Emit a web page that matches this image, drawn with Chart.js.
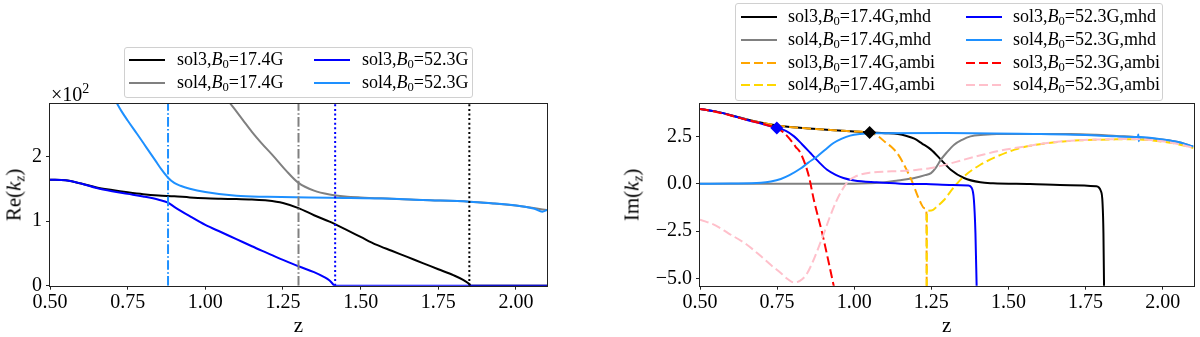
<!DOCTYPE html>
<html>
<head>
<meta charset="utf-8">
<script src="https://cdn.jsdelivr.net/npm/chart.js@4.4.1/dist/chart.umd.min.js"></script>
<style>
  body { margin: 0; width: 1200px; height: 337px; background: #fff; position: relative; overflow: hidden;
         font-family: "Liberation Serif", "DejaVu Serif", serif; color: #000; }
  canvas { position: absolute; top: 0; }
  .legend { position: absolute; background: rgba(255,255,255,0.8); border: 1px solid #d0d0d0; border-radius: 3px; box-sizing: border-box; }
  .item { position: absolute; font-size: 18px; line-height: 18px; white-space: nowrap; }
  .item svg { position: absolute; }
  sub { font-size: 0.7em; vertical-align: -0.25em; line-height: 0; }
  .ytitle { position: absolute; font-size: 21px; white-space: nowrap; transform: translate(-50%, -50%) rotate(-90deg); }
  .offset { position: absolute; font-size: 20px; white-space: nowrap; }
</style>
</head>
<body>
<canvas id="left" width="560" height="337" style="left:0"></canvas>
<canvas id="right" width="600" height="337" style="left:600px"></canvas>
<div id="legLeft" class="legend" style="left:124px;top:47px;width:349px;height:51px"></div>
<div id="legRight" class="legend" style="left:735px;top:3px;width:428px;height:98px"></div>
<div class="ytitle" style="left:14px;top:195px">Re(<i>k</i><sub><i>z</i></sub>)</div>
<div class="ytitle" style="left:632px;top:195px">Im(<i>k</i><sub><i>z</i></sub>)</div>
<div class="offset" style="left:51px;top:81px">×10<sup style="font-size:0.7em">2</sup></div>

<script>
const FONT = 'Liberation Serif, DejaVu Serif, serif';
Chart.defaults.font.family = FONT;
Chart.defaults.color = '#000';

// ---- left panel: Re(k_z), in units of 10^2 ----
const zL_s3_174 = [0.50,0.55,0.60,0.65,0.70,0.75,0.80,0.85,0.90,0.95,1.00,1.05,1.10,1.15,1.20,1.25,1.30,1.35,1.40,1.45,1.50,1.55,1.60,1.65,1.70,1.75,1.80,1.83,1.85,1.855,2.10];
const reL_s3_174 = [1.64,1.63,1.58,1.52,1.48,1.445,1.415,1.395,1.383,1.365,1.352,1.345,1.34,1.332,1.318,1.28,1.20,1.09,0.99,0.875,0.755,0.635,0.54,0.445,0.35,0.255,0.16,0.09,0.025,0,0];

const zL_s4_174 = [1.08,1.12,1.15,1.18,1.22,1.26,1.30,1.35,1.40,1.45,1.50,1.60,1.70,1.85,2.00,2.10];
const reL_s4_174 = [2.82,2.57,2.38,2.21,2.00,1.78,1.59,1.47,1.41,1.38,1.365,1.345,1.325,1.30,1.24,1.17];

const zL_s3_523 = [0.50,0.55,0.60,0.65,0.70,0.75,0.80,0.85,0.88,0.90,0.95,1.00,1.05,1.10,1.15,1.20,1.25,1.30,1.35,1.38,1.40,1.41,1.415,2.10];
const reL_s3_523 = [1.64,1.63,1.58,1.51,1.46,1.42,1.38,1.33,1.285,1.22,1.075,0.94,0.83,0.72,0.61,0.505,0.40,0.30,0.21,0.14,0.08,0.03,0,0];

const zL_s4_523 = [0.712,0.73,0.75,0.78,0.81,0.84,0.86,0.88,0.90,0.92,0.95,1.00,1.10,1.20,1.40,1.60,1.70,1.85,1.92,2.00,2.03,2.06,2.085,2.10];
const reL_s4_523 = [2.85,2.70,2.555,2.35,2.14,1.93,1.79,1.67,1.59,1.545,1.50,1.45,1.39,1.375,1.36,1.345,1.325,1.30,1.275,1.24,1.22,1.19,1.145,1.17];

const zL_vlines = [0.88, 1.30, 1.418, 1.85];
const cL_vlines = ['#1e90ff', '#808080', '#0000ff', '#000000'];
const sL_vlines = ['dashdot', 'dashdot', 'dotted', 'dotted'];

const xTicks = [0.50, 0.75, 1.00, 1.25, 1.50, 1.75, 2.00];
const yTicksL = [0, 1, 2];

// ---- right panel: Im(k_z) ----
const zR_s3_174_mhd = [0.50,0.55,0.60,0.65,0.70,0.75,0.80,0.85,0.90,0.95,1.00,1.05,1.10,1.142,1.17,1.195,1.22,1.249,1.281,1.313,1.356,1.409,1.45,1.57,1.70,1.784,1.80,1.805,1.808,1.81];
const imR_s3_174_mhd = [3.95,3.82,3.62,3.40,3.22,3.07,2.98,2.92,2.86,2.81,2.76,2.71,2.67,2.62,2.52,2.38,2.12,1.80,1.27,0.74,0.30,0.07,0.02,-0.02,-0.08,-0.14,-0.40,-1.0,-2.6,-5.5];

const zR_s4_174_mhd = [0.50,1.00,1.05,1.10,1.142,1.195,1.23,1.249,1.265,1.281,1.30,1.324,1.35,1.377,1.42,1.463,1.70,1.784,1.85,1.92,2.00,2.05,2.089,2.10];
const imR_s4_174_mhd = [0.0,0.0,0.02,0.07,0.17,0.30,0.45,0.56,0.85,1.27,1.65,2.06,2.32,2.50,2.58,2.62,2.62,2.58,2.52,2.46,2.33,2.20,2.01,1.96];

const zR_s3_174_ambi = [0.50,0.55,0.60,0.65,0.70,0.75,0.80,0.85,0.90,0.95,1.00,1.05,1.08,1.10,1.12,1.14,1.16,1.185,1.211,1.228,1.234,1.235];
const imR_s3_174_ambi = [3.95,3.82,3.62,3.40,3.22,3.07,2.98,2.92,2.86,2.81,2.76,2.71,2.48,2.2,1.95,1.6,1.05,0.21,-0.85,-1.30,-1.40,-5.5];

const zR_s4_174_ambi = [1.235,1.236,1.25,1.27,1.292,1.32,1.356,1.409,1.463,1.52,1.57,1.62,1.677,1.73,1.784,1.84,1.891,1.95,1.998,2.05,2.089,2.10];
const imR_s4_174_ambi = [-5.5,-1.45,-1.42,-1.18,-0.85,-0.25,0.39,1.0,1.44,1.80,2.0,2.13,2.23,2.29,2.32,2.34,2.35,2.31,2.23,2.09,1.93,1.89];

const zR_s3_523_mhd = [0.50,0.55,0.60,0.65,0.70,0.749,0.78,0.805,0.83,0.858,0.885,0.912,0.94,0.965,1.00,1.072,1.15,1.233,1.318,1.37,1.38,1.388,1.393,1.397];
const imR_s3_523_mhd = [3.95,3.82,3.62,3.38,3.17,2.94,2.78,2.50,2.10,1.62,1.15,0.74,0.47,0.30,0.17,0.07,0.0,-0.02,-0.07,-0.10,-0.20,-0.85,-2.6,-5.5];

const zR_s4_523_mhd = [0.50,0.60,0.698,0.73,0.762,0.79,0.826,0.85,0.88,0.91,0.933,0.96,0.987,1.02,1.05,1.30,1.60,1.784,1.85,1.92,1.921,1.923,1.925,2.00,2.05,2.089,2.10];
const imR_s4_523_mhd = [0.0,0.01,0.05,0.12,0.25,0.45,0.80,1.10,1.44,1.85,2.15,2.38,2.54,2.63,2.67,2.68,2.62,2.55,2.50,2.47,2.60,2.24,2.46,2.33,2.20,2.01,1.96];

const zR_s3_523_ambi = [0.50,0.55,0.60,0.65,0.70,0.75,0.77,0.79,0.81,0.826,0.853,0.869,0.896,0.935];
const imR_s3_523_ambi = [3.95,3.80,3.60,3.38,3.17,2.92,2.72,2.38,1.95,1.62,0.39,-0.85,-2.6,-5.5];

const zR_s4_523_ambi = [0.50,0.55,0.591,0.65,0.698,0.73,0.762,0.785,0.805,0.825,0.845,0.865,0.88,0.90,0.92,0.94,0.96,0.98,1.00,1.02,1.05,1.10,1.142,1.20,1.249,1.30,1.356,1.41,1.463,1.52,1.57,1.62,1.677,1.73,1.784,1.84,1.891,1.95,1.998,2.05,2.089,2.10];
const imR_s4_523_ambi = [-1.90,-2.20,-2.61,-3.2,-3.84,-4.3,-4.72,-5.05,-5.22,-5.12,-4.8,-4.15,-3.55,-2.7,-1.8,-1.0,-0.35,0.12,0.35,0.48,0.58,0.64,0.66,0.72,0.83,1.02,1.27,1.50,1.71,1.88,2.01,2.14,2.24,2.30,2.33,2.35,2.36,2.32,2.24,2.10,1.94,1.90];

const diamondsZ = [0.749, 1.05];
const diamondsIm = [2.94, 2.71];
const diamondsC = ['#0000ff', '#000000'];

const yTicksR = [-5.0, -2.5, 0.0, 2.5];

// ---- legend labels ----
const labelsL = ['sol3,B0=17.4G', 'sol4,B0=17.4G', 'sol3,B0=52.3G', 'sol4,B0=52.3G'];
const colorsL = ['#000000', '#808080', '#0000ff', '#1e90ff'];
const labelsR = ['sol3,B0=17.4G,mhd', 'sol4,B0=17.4G,mhd', 'sol3,B0=17.4G,ambi', 'sol4,B0=17.4G,ambi',
                 'sol3,B0=52.3G,mhd', 'sol4,B0=52.3G,mhd', 'sol3,B0=52.3G,ambi', 'sol4,B0=52.3G,ambi'];
const colorsR = ['#000000', '#808080', '#ffa500', '#ffd700', '#0000ff', '#1e90ff', '#ff0000', '#ffc0cb'];

const DASH = { solid: [], dashed: [9, 4], dashdot: [9.6, 2.4, 1.5, 2.4], dotted: [2, 2.6] };

function pts(zs, vs) { return zs.map((z, i) => ({ x: z, y: vs[i] })); }

function curve(label, zs, vs, color, style, order) {
  return {
    label, data: pts(zs, vs), borderColor: color, backgroundColor: color,
    borderWidth: 2, borderDash: DASH[style], pointRadius: 0, fill: false,
    cubicInterpolationMode: 'monotone', clip: 0, order
  };
}

const framePlugin = {
  id: 'frame',
  afterDatasetsDraw(chart) {
    const { ctx, chartArea: a } = chart;
    ctx.save();
    ctx.strokeStyle = '#222';
    ctx.lineWidth = 1;
    ctx.strokeRect(Math.round(a.left) - 0.5, Math.round(a.top) - 0.5,
                   Math.round(a.right) - Math.round(a.left) + 1, Math.round(a.bottom) - Math.round(a.top) + 1);
    ctx.restore();
  }
};

function makeChart(id, datasets, yMin, yMax, yTicks, yFmt, yWidth, padRight) {
  return new Chart(document.getElementById(id), {
    type: 'line',
    data: { datasets },
    options: {
      responsive: false, animation: false, devicePixelRatio: 1,
      layout: { padding: { left: 0, top: 104, right: padRight, bottom: 0 } },
      plugins: { legend: { display: false }, tooltip: { enabled: false } },
      scales: {
        x: {
          type: 'linear', min: 0.5, max: 2.1,
          afterBuildTicks: s => { s.ticks = xTicks.map(v => ({ value: v })); },
          afterFit: s => { s.height = 51.3; },
          ticks: { font: { family: FONT, size: 20 }, color: '#000', padding: 1, maxRotation: 0, autoSkip: false,
                   callback: v => v.toFixed(2) },
          grid: { drawOnChartArea: false, drawTicks: true, tickLength: 4, tickColor: '#222' },
          border: { display: false },
          title: { display: true, text: 'z', color: '#000', font: { family: FONT, size: 21, lineHeight: 1 }, padding: 0 }
        },
        y: {
          type: 'linear', min: yMin, max: yMax,
          afterBuildTicks: s => { s.ticks = yTicks.map(v => ({ value: v })); },
          afterFit: s => { s.width = yWidth; },
          ticks: { font: { family: FONT, size: 20 }, color: '#000', padding: 4, callback: yFmt },
          grid: { drawOnChartArea: false, drawTicks: true, tickLength: 4, tickColor: '#222' },
          border: { display: false }
        }
      }
    },
    plugins: [framePlugin]
  });
}

// left chart datasets
const leftSets = [
  curve(labelsL[0], zL_s3_174, reL_s3_174, colorsL[0], 'solid', 100),
  curve(labelsL[1], zL_s4_174, reL_s4_174, colorsL[1], 'solid', 99),
  curve(labelsL[2], zL_s3_523, reL_s3_523, colorsL[2], 'solid', 98),
  curve(labelsL[3], zL_s4_523, reL_s4_523, colorsL[3], 'solid', 97)
];
zL_vlines.forEach((z, i) => {
  leftSets.push({
    label: 'v' + i, data: [{ x: z, y: 0 }, { x: z, y: 2.81 }],
    borderColor: cL_vlines[i], borderWidth: 2, borderDash: DASH[sL_vlines[i]],
    pointRadius: 0, fill: false, clip: 0, order: 10 - i
  });
});
makeChart('left', leftSets, 0, 2.81, yTicksL, v => String(v), 50, 13);

// right chart datasets
const rightZ = [zR_s3_174_mhd, zR_s4_174_mhd, zR_s3_174_ambi, zR_s4_174_ambi, zR_s3_523_mhd, zR_s4_523_mhd, zR_s3_523_ambi, zR_s4_523_ambi];
const rightV = [imR_s3_174_mhd, imR_s4_174_mhd, imR_s3_174_ambi, imR_s4_174_ambi, imR_s3_523_mhd, imR_s4_523_mhd, imR_s3_523_ambi, imR_s4_523_ambi];
const stylesR = ['solid', 'solid', 'dashed', 'dashed', 'solid', 'solid', 'dashed', 'dashed'];
const rightSets = rightZ.map((zs, i) => curve(labelsR[i], zs, rightV[i], colorsR[i], stylesR[i], 100 - i));
diamondsZ.forEach((z, i) => {
  rightSets.push({
    label: 'd' + i, data: [{ x: z, y: diamondsIm[i] }], showLine: false,
    pointStyle: 'rectRot', pointRadius: 6.5, pointBorderWidth: 0,
    pointBackgroundColor: diamondsC[i], borderColor: diamondsC[i], clip: 0, order: 0
  });
});
makeChart('right', rightSets, -5.39, 4.21, yTicksR,
  v => (v < 0 ? '\u2212' : '') + Math.abs(v).toFixed(1), 100, 3);

// ---- legends (html) ----
function labelHtml(t) { return t.replace('B0', '<i>B</i><sub>0</sub>'); }
function buildLegend(boxId, labels, colors, styles, rows, lineX, textX, rowY) {
  const box = document.getElementById(boxId);
  labels.forEach((lab, i) => {
    const col = Math.floor(i / rows), row = i % rows;
    const sw = document.createElementNS('http://www.w3.org/2000/svg', 'svg');
    sw.setAttribute('width', 36); sw.setAttribute('height', 6);
    sw.style.position = 'absolute';
    sw.style.left = lineX[col] + 'px'; sw.style.top = (rowY[row] - 3) + 'px';
    const ln = document.createElementNS('http://www.w3.org/2000/svg', 'line');
    ln.setAttribute('x1', 0); ln.setAttribute('x2', 36); ln.setAttribute('y1', 3); ln.setAttribute('y2', 3);
    ln.setAttribute('stroke', colors[i]); ln.setAttribute('stroke-width', 2);
    if (DASH[styles[i]].length) ln.setAttribute('stroke-dasharray', DASH[styles[i]].join(','));
    sw.appendChild(ln);
    box.appendChild(sw);
    const d = document.createElement('div');
    d.className = 'item';
    d.style.left = textX[col] + 'px'; d.style.top = (rowY[row] - 10) + 'px';
    d.innerHTML = labelHtml(lab);
    box.appendChild(d);
  });
}
buildLegend('legLeft', labelsL, colorsL, ['solid', 'solid', 'solid', 'solid'], 2, [4, 189], [52, 237], [12, 35]);
buildLegend('legRight', labelsR, colorsR, stylesR, 4, [5, 230], [52, 277], [12.7, 36, 58.7, 81]);
</script>
</body>
</html>
